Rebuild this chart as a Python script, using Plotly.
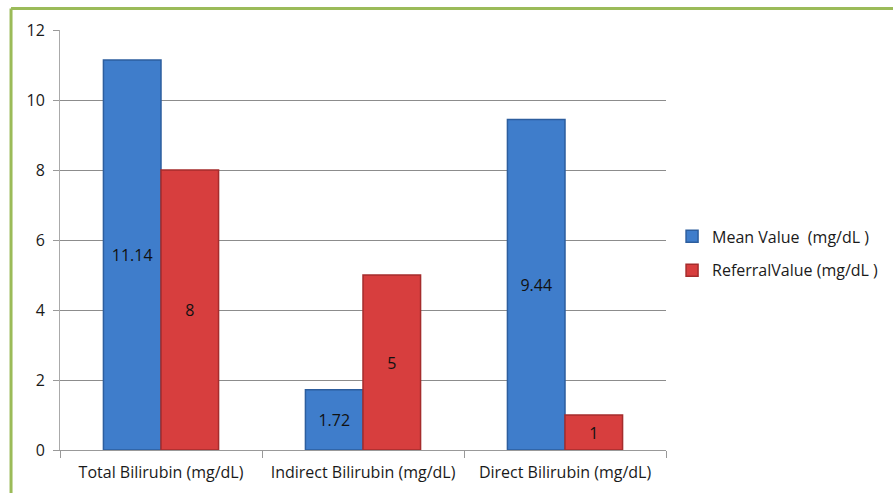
import plotly.graph_objects as go

categories = ["Total Bilirubin (mg/dL)", "Indirect Bilirubin (mg/dL)", "Direct Bilirubin (mg/dL)"]
mean_values = [11.14, 1.72, 9.44]
referral_values = [8, 5, 1]
mean_labels = ["11.14", "1.72", "9.44"]
referral_labels = ["8", "5", "1"]
series_names = ["Mean Value  (mg/dL )", "ReferralValue (mg/dL )"]

FONT = "Open Sans"
FS = 16

fig = go.Figure()
fig.add_trace(go.Bar(
    x=categories, y=mean_values, name=series_names[0],
    text=mean_labels, textposition="inside", insidetextanchor="middle",
    textangle=0, constraintext="none", cliponaxis=False,
    textfont=dict(color="#111111", size=FS, family=FONT),
    marker=dict(color="#3F7DCB", line=dict(color="#2D5E9E", width=1.5)),
    legendgroup="a",
))
fig.add_trace(go.Bar(
    x=categories, y=referral_values, name=series_names[1],
    text=referral_labels, textposition="inside", insidetextanchor="middle",
    textangle=0, constraintext="none", cliponaxis=False,
    textfont=dict(color="#111111", size=FS, family=FONT),
    marker=dict(color="#D73E3E", line=dict(color="#A52C2C", width=1.5)),
    legendgroup="b",
))

fig.update_layout(
    width=893, height=493,
    margin=dict(l=60, r=227, t=30, b=43, autoexpand=False),
    paper_bgcolor="white", plot_bgcolor="white",
    barmode="group", bargap=0.43, bargroupgap=0,
    font=dict(family=FONT, size=FS, color="#1a1a1a"),
    uniformtext=dict(mode=False),
    legend=dict(x=1.01, y=0.468, xanchor="left", yanchor="middle",
                font=dict(size=FS, color="#1a1a1a"), tracegroupgap=10,
                traceorder="grouped", itemwidth=30),
    showlegend=True,
    shapes=[
        dict(type="line", xref="paper", yref="paper", x0=-0.0808, x1=1.6,
             y0=1.0512, y1=1.0512, line=dict(color="#9BBB59", width=3)),
        dict(type="line", xref="paper", yref="paper", x0=-0.0808, x1=-0.0808,
             y0=-0.2, y1=1.0512, line=dict(color="#9BBB59", width=3)),
    ],
)
fig.update_xaxes(
    type="category", tickson="boundaries", ticks="outside", ticklen=7,
    tickcolor="#999999", showline=True, linecolor="#999999", linewidth=1,
    showgrid=False, tickfont=dict(size=FS, color="#1a1a1a"),
    tickangle=0, automargin=False, ticklabelstandoff=8,
)
fig.update_yaxes(
    range=[0, 12], dtick=2, ticks="outside", ticklen=6, tickcolor="#999999",
    showline=True, linecolor="#aaaaaa", linewidth=1,
    showgrid=True, gridcolor="#8c8c8c", gridwidth=1, zeroline=False,
    tickfont=dict(size=FS, color="#1a1a1a"), automargin=False,
    ticklabelstandoff=5,
)

fig.write_html("out.html")
